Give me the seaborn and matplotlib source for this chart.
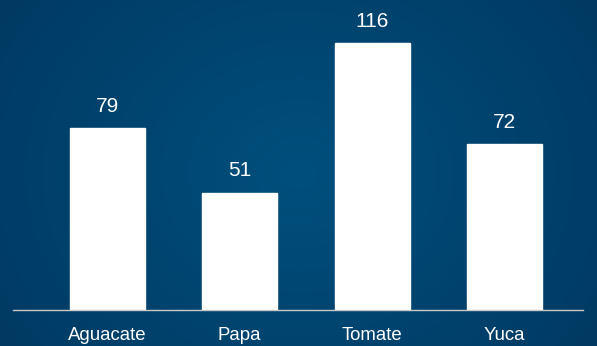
import numpy as np
import pandas as pd
import matplotlib
matplotlib.use("Agg")
import matplotlib.pyplot as plt
import seaborn as sns
from matplotlib.colors import LinearSegmentedColormap

categories = ["Aguacate", "Papa", "Tomate", "Yuca"]
values = [79, 51, 116, 72]

sns.set_style("white")
plt.rcParams['font.family'] = ['Liberation Sans', 'DejaVu Sans']

W, H = 597, 346
fig = plt.figure(figsize=(W/100, H/100), dpi=100)

# background radial gradient
bg = fig.add_axes([0, 0, 1, 1])
yy, xx = np.mgrid[0:H, 0:W]
r = np.sqrt(((xx - W*0.5)/(W*0.6))**2 + ((yy - H*0.5)/(H*0.9))**2)
r = np.clip(r, 0, 1)
cmap = LinearSegmentedColormap.from_list("bg", ["#004f7d", "#003a63"])
bg.imshow(r, cmap=cmap, aspect="auto", extent=[0, 1, 0, 1], vmin=0, vmax=1)
bg.set_axis_off()

ax = fig.add_axes([13/W, (H-310)/H, (583-13)/W, 310/H])
ax.patch.set_alpha(0)
df = pd.DataFrame({"cat": categories, "val": values})
sns.barplot(data=df, x="cat", y="val", color="white", saturation=1, width=0.566, ax=ax)
ax.set_xlim(-0.71, 3.59)
ax.set_ylim(0, 310/2.3)
for i, v in enumerate(values):
    ax.text(i, v + 22/2.3, str(v), ha="center", va="center", color="white", fontsize=15)
for s in ["top", "right", "left"]:
    ax.spines[s].set_visible(False)
ax.spines["bottom"].set_color("#c8c8c8")
ax.spines["bottom"].set_linewidth(1)
ax.set_yticks([])
ax.tick_params(axis="x", length=0, pad=12, colors="white", labelsize=13.4)
ax.set_xlabel("")
ax.set_ylabel("")

fig.savefig("out.png", dpi=100)
